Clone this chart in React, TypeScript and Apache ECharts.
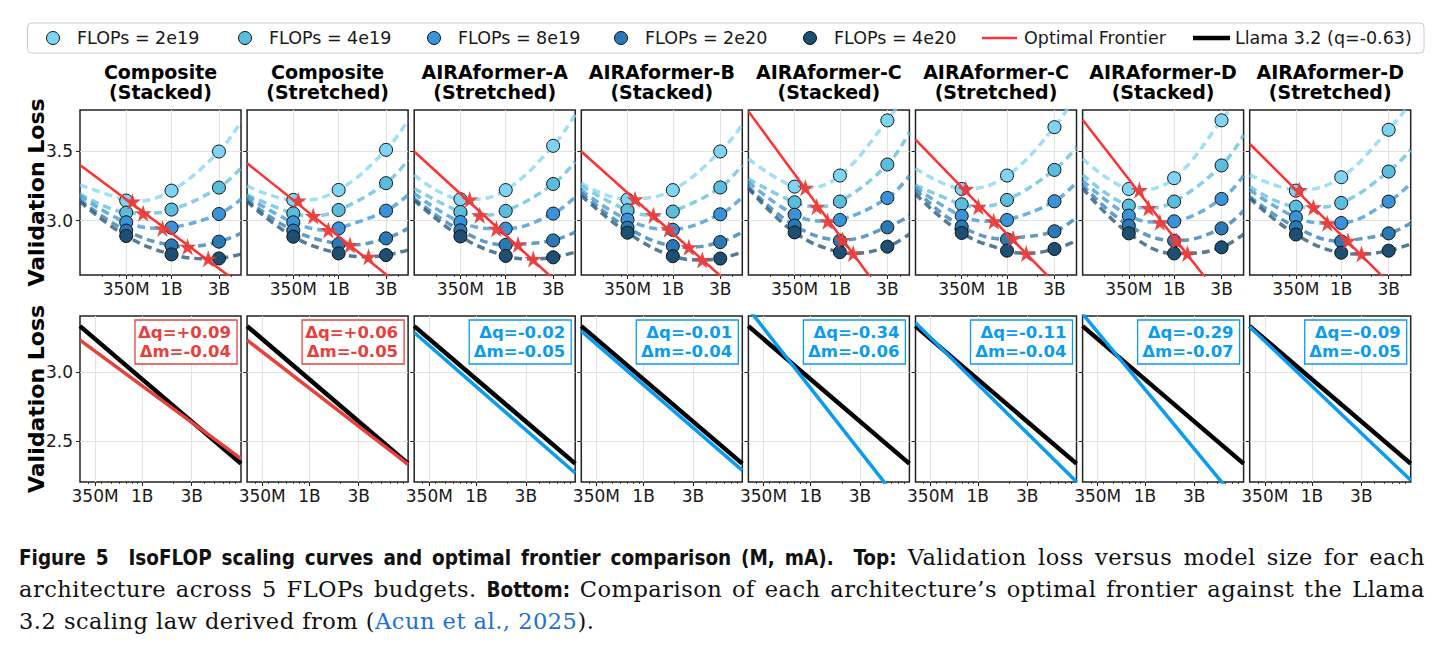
import React, { useEffect, useRef } from 'react';
import * as echarts from 'echarts';

// ---------- labels ----------
const panelTitles = [
  'Composite\n(Stacked)',
  'Composite\n(Stretched)',
  'AIRAformer-A\n(Stretched)',
  'AIRAformer-B\n(Stacked)',
  'AIRAformer-C\n(Stacked)',
  'AIRAformer-C\n(Stretched)',
  'AIRAformer-D\n(Stacked)',
  'AIRAformer-D\n(Stretched)',
];
const budgetNames = ['FLOPs = 2e19', 'FLOPs = 4e19', 'FLOPs = 8e19', 'FLOPs = 2e20', 'FLOPs = 4e20'];
const budgetColors = ['#7fd4f6', '#5bbddd', '#3a93d8', '#2b79b4', '#1c4f72'];
const frontierName = 'Optimal Frontier';
const llamaName = 'Llama 3.2 (q=-0.63)';

// ---------- axes ----------
const modelSizes = [3.5e8, 1e9, 3e9];
const tickSizes = [3.5e8, 1e9, 3e9];
const tickLabels = ['350M', '1B', '3B'];
const minorTickSizes = [2e8, 3e8, 4e8, 5e8, 6e8, 7e8, 8e8, 9e8, 2e9, 3e9, 4e9, 5e9, 6e9, 7e9, 8e9, 9e9];
const topSizeRange = [1.2e8, 5e9];
const topLossRange = [2.607, 3.8];
const topLossTicks = [3.0, 3.5];
const bottomSizeRange = [2.5e8, 9e9];
const bottomLossRange = [2.203, 3.404];
const bottomLossTicks = [2.5, 3.0];

// ---------- IsoFLOP measurements: loss per budget at 350M / 1B / 3B ----------
const compositeStackedLoss = [[3.145, 3.217, 3.5], [3.058, 3.08, 3.239], [2.988, 2.949, 3.048], [2.928, 2.821, 2.848], [2.889, 2.756, 2.727]];
const compositeStretchedLoss = [[3.15, 3.222, 3.512], [3.053, 3.077, 3.271], [2.988, 2.944, 3.072], [2.928, 2.831, 2.872], [2.884, 2.763, 2.751]];
const aStretchedLoss = [[3.155, 3.221, 3.541], [3.063, 3.07, 3.265], [2.99, 2.942, 3.051], [2.93, 2.825, 2.857], [2.886, 2.745, 2.735]];
const bStackedLoss = [[3.153, 3.221, 3.5], [3.075, 3.066, 3.24], [3.007, 2.934, 3.046], [2.949, 2.816, 2.845], [2.913, 2.743, 2.726]];
const cStackedLoss = [[3.246, 3.326, 3.725], [3.133, 3.138, 3.406], [3.043, 3.005, 3.164], [2.964, 2.855, 2.952], [2.915, 2.772, 2.812]];
const cStretchedLoss = [[3.229, 3.326, 3.676], [3.118, 3.15, 3.367], [3.034, 3.005, 3.14], [2.957, 2.865, 2.923], [2.911, 2.783, 2.795]];
const dStackedLoss = [[3.229, 3.307, 3.725], [3.109, 3.138, 3.399], [3.036, 2.995, 3.157], [2.964, 2.855, 2.944], [2.908, 2.763, 2.807]];
const dStretchedLoss = [[3.217, 3.314, 3.657], [3.101, 3.128, 3.355], [3.024, 2.983, 3.138], [2.952, 2.85, 2.908], [2.9, 2.768, 2.783]];
const panelLosses = [compositeStackedLoss, compositeStretchedLoss, aStretchedLoss, bStackedLoss, cStackedLoss, cStretchedLoss, dStackedLoss, dStretchedLoss];

// fitted IsoFLOP curves at the left (120M) and right (5B) ends of the axis
const curveLossAtLeft = [
  [3.258, 3.193, 3.179, 3.15, 3.138],
  [3.251, 3.186, 3.174, 3.15, 3.138],
  [3.33, 3.233, 3.197, 3.16, 3.148],
  [3.27, 3.25, 3.22, 3.2, 3.18],
  [3.447, 3.302, 3.278, 3.246, 3.234],
  [3.379, 3.258, 3.242, 3.222, 3.193],
  [3.447, 3.331, 3.29, 3.258, 3.234],
  [3.331, 3.246, 3.222, 3.174, 3.162],
];
const curveLossAtRight = [
  [3.717, 3.38, 3.155, 2.908, 2.758],
  [3.73, 3.44, 3.186, 2.944, 2.787],
  [3.767, 3.427, 3.172, 2.917, 2.772],
  [3.694, 3.403, 3.172, 2.917, 2.772],
  [3.95, 3.64, 3.326, 3.036, 2.903],
  [3.92, 3.531, 3.278, 3.024, 2.855],
  [3.95, 3.621, 3.326, 3.072, 2.903],
  [3.85, 3.512, 3.27, 2.981, 2.831],
];

// curve minima (optimal model size and loss per budget)
const optimalSize = [
  [4.04e8, 5.18e8, 8.11e8, 1.45e9, 2.34e9],
  [3.92e8, 5.55e8, 7.87e8, 1.3e9, 2.0e9],
  [4.34e8, 5.47e8, 8.05e8, 1.33e9, 1.89e9],
  [4.17e8, 6.38e8, 9.12e8, 1.45e9, 1.98e9],
  [4.49e8, 5.83e8, 7.52e8, 1.06e9, 1.36e9],
  [3.85e8, 5.15e8, 7.35e8, 1.15e9, 1.56e9],
  [4.47e8, 5.53e8, 7.19e8, 1.05e9, 1.36e9],
  [3.78e8, 5.25e8, 7.24e8, 1.17e9, 1.6e9],
];
const optimalLoss = [
  [3.138, 3.053, 2.944, 2.812, 2.725],
  [3.145, 3.034, 2.932, 2.824, 2.739],
  [3.153, 3.039, 2.942, 2.828, 2.723],
  [3.155, 3.039, 2.937, 2.808, 2.716],
  [3.237, 3.101, 2.995, 2.86, 2.763],
  [3.229, 3.101, 2.995, 2.872, 2.763],
  [3.222, 3.092, 2.988, 2.855, 2.763],
  [3.222, 3.097, 2.981, 2.855, 2.758],
];

// optimal frontier at 120M and 5B (top row)
const frontierLossAtLeft = [3.403, 3.415, 3.5, 3.5, 3.79, 3.585, 3.729, 3.556];
const frontierLossAtRight = [2.535, 2.484, 2.434, 2.459, 2.206, 2.387, 2.231, 2.393];

// bottom row: frontier vs Llama 3.2 law at 250M and 9B
const llamaLoss = [3.331, 2.336];
const compareLossAtLeft = [3.229, 3.229, 3.285, 3.295, 3.457, 3.355, 3.419, 3.326];
const compareLossAtRight = [2.372, 2.331, 2.268, 2.287, 1.969, 2.205, 2.011, 2.215];
const deltaQ = [0.09, 0.06, -0.02, -0.01, -0.34, -0.11, -0.29, -0.09];
const deltaM = [-0.04, -0.05, -0.05, -0.04, -0.06, -0.04, -0.07, -0.05];

// ---------- styling ----------
const FONT = '"DejaVu Sans", "Noto Sans", sans-serif';
const INK = '#1a1a1a';
const FRONTIER_RED = '#ff3131';
const STAR_RED = '#e83e3c';
const GAIN_RED = '#e8403c';
const LOSS_BLUE = '#0a9cf0';
const STAR_PATH = 'path://M50,0 L61.8,35.4 L99,35.4 L69,57.3 L80.3,92.7 L50,70.8 L19.7,92.7 L31,57.3 L1,35.4 L38.2,35.4 Z';

const PANEL_LEFT0 = 80;
const PANEL_STEP = 167.1;
const PANEL_W = 161;
const TOP_Y = 110;
const TOP_H = 165;
const BOT_Y = 316;
const BOT_H = 166;

const lg = Math.log10;
const fmtSigned = (v: number) => (v > 0 ? '+' : '') + v.toFixed(2);
const sizeLabel = (v: number) => {
  const k = tickSizes.findIndex((s) => Math.abs(lg(s) - v) < 1e-6);
  return k >= 0 ? tickLabels[k] : '';
};

function buildOption() {
  const grid: any[] = [];
  const xAxis: any[] = [];
  const yAxis: any[] = [];
  const series: any[] = [];
  const graphic: any[] = [];

  const axisText = { fontFamily: FONT, fontSize: 17, color: INK };
  const splitLine = { show: true, lineStyle: { color: '#e3e3e3', width: 1 } };

  // main axes (0..15) then minor-tick axes (16..31)
  const minorAxes: any[] = [];
  for (let g = 0; g < 16; g++) {
    const top = g < 8;
    const col = g % 8;
    const left = PANEL_LEFT0 + col * PANEL_STEP;
    const sRange = top ? topSizeRange : bottomSizeRange;
    const lRange = top ? topLossRange : bottomLossRange;
    const lTicks = top ? topLossTicks : bottomLossTicks;
    grid.push({
      left, top: top ? TOP_Y : BOT_Y, width: PANEL_W, height: top ? TOP_H : BOT_H,
      show: true, borderColor: '#222', borderWidth: 1.5, backgroundColor: 'transparent',
    });
    const majors = tickSizes.filter((s) => s >= sRange[0] && s <= sRange[1]).map(lg);
    xAxis.push({
      type: 'value', gridIndex: g, min: lg(sRange[0]), max: lg(sRange[1]),
      axisLine: { show: false },
      axisTick: { show: true, length: 4, lineStyle: { color: '#222', width: 1 }, customValues: majors },
      axisLabel: { show: true, customValues: majors, formatter: sizeLabel, margin: 5, ...axisText },
      splitLine,
    });
    minorAxes.push({
      type: 'value', gridIndex: g, position: 'bottom', min: lg(sRange[0]), max: lg(sRange[1]),
      axisLine: { show: false },
      axisTick: {
        show: true, length: 2, lineStyle: { color: '#222', width: 0.8 },
        customValues: minorTickSizes.filter((s) => s > sRange[0] && s < sRange[1]).map(lg),
      },
      axisLabel: { show: false },
      splitLine: { show: false },
    });
    yAxis.push({
      type: 'value', gridIndex: g, min: lRange[0], max: lRange[1],
      axisLine: { show: false },
      axisTick: { show: true, length: 4, lineStyle: { color: '#222', width: 1 }, customValues: lTicks },
      axisLabel: {
        show: col === 0, customValues: lTicks, margin: 7,
        formatter: (v: number) => v.toFixed(1), ...axisText,
      },
      splitLine,
    });
  }
  xAxis.push(...minorAxes);

  // ---------- top row: IsoFLOP curves ----------
  for (let p = 0; p < 8; p++) {
    const losses = panelLosses[p];
    for (let b = 0; b < 5; b++) {
      const optX = lg(optimalSize[p][b]);
      const samples: number[][] = [
        [lg(topSizeRange[0]), curveLossAtLeft[p][b]],
        [optX, optimalLoss[p][b]],
        [lg(topSizeRange[1]), curveLossAtRight[p][b]],
      ];
      modelSizes.forEach((s, k) => {
        if (Math.abs(lg(s) - optX) > 0.05) samples.push([lg(s), losses[b][k]]);
      });
      samples.sort((a, c) => a[0] - c[0]);
      series.push({
        type: 'line', name: budgetNames[b] + ' fit', xAxisIndex: p, yAxisIndex: p,
        data: samples, smooth: 0.4, showSymbol: false, symbol: 'none', silent: true,
        lineStyle: { color: budgetColors[b], width: 3.5, type: [8, 5], opacity: 0.75 },
        z: 2,
      });
    }
    for (let b = 0; b < 5; b++) {
      series.push({
        type: 'scatter', name: budgetNames[b], xAxisIndex: p, yAxisIndex: p,
        data: modelSizes.map((s, k) => [lg(s), losses[b][k]]),
        symbol: 'circle', symbolSize: 13,
        itemStyle: { color: budgetColors[b], borderColor: '#111', borderWidth: 1, opacity: 1 },
        z: 3,
      });
    }
    series.push({
      type: 'line', name: frontierName, xAxisIndex: p, yAxisIndex: p,
      data: [[lg(topSizeRange[0]), frontierLossAtLeft[p]], [lg(topSizeRange[1]), frontierLossAtRight[p]]],
      showSymbol: false, symbol: 'none', lineStyle: { color: FRONTIER_RED, width: 2.5 }, z: 4,
    });
    series.push({
      type: 'scatter', name: 'Optimal', xAxisIndex: p, yAxisIndex: p,
      data: optimalSize[p].map((s, b) => [lg(s), optimalLoss[p][b]]),
      symbol: STAR_PATH, symbolSize: 17,
      itemStyle: { color: STAR_RED, opacity: 0.95 },
      z: 5,
    });
  }

  // ---------- bottom row: frontier vs Llama 3.2 ----------
  for (let p = 0; p < 8; p++) {
    const g = 8 + p;
    const color = deltaQ[p] > 0 ? GAIN_RED : LOSS_BLUE;
    series.push({
      type: 'line', name: llamaName, xAxisIndex: g, yAxisIndex: g,
      data: [[lg(bottomSizeRange[0]), llamaLoss[0]], [lg(bottomSizeRange[1]), llamaLoss[1]]],
      showSymbol: false, symbol: 'none', lineStyle: { color: '#000', width: 4.5 }, z: 3,
    });
    series.push({
      type: 'line', name: panelTitles[p].replace('\n', ' '), xAxisIndex: g, yAxisIndex: g,
      data: [[lg(bottomSizeRange[0]), compareLossAtLeft[p]], [lg(bottomSizeRange[1]), compareLossAtRight[p]]],
      showSymbol: false, symbol: 'none', lineStyle: { color, width: 3.5 }, z: 4,
    });

    const right = PANEL_LEFT0 + p * PANEL_STEP + PANEL_W - 4;
    graphic.push({
      type: 'rect', z: 100,
      shape: { x: right - 102, y: BOT_Y + 4, width: 102, height: 44 },
      style: { fill: '#fff', stroke: color, lineWidth: 1.3 },
    });
    graphic.push({
      type: 'text', z: 101, x: right - 6, y: BOT_Y + 26,
      style: {
        text: `Δq=${fmtSigned(deltaQ[p])}\nΔm=${fmtSigned(deltaM[p])}`,
        align: 'right', verticalAlign: 'middle', lineHeight: 18.5,
        fontFamily: FONT, fontWeight: 'bold', fontSize: 16.5, fill: color,
      },
    });
  }

  // ---------- panel titles ----------
  panelTitles.forEach((t, p) => {
    graphic.push({
      type: 'text', x: PANEL_LEFT0 + p * PANEL_STEP + PANEL_W / 2, y: 82,
      style: {
        text: t, align: 'center', verticalAlign: 'middle', lineHeight: 20,
        fontFamily: FONT, fontWeight: 'bold', fontSize: 19, fill: '#000',
      },
    });
  });

  // ---------- y-axis titles ----------
  [TOP_Y + TOP_H / 2, BOT_Y + BOT_H / 2].forEach((cy) => {
    graphic.push({
      type: 'text', x: 36, y: cy, rotation: Math.PI / 2,
      style: {
        text: 'Validation Loss', align: 'center', verticalAlign: 'middle',
        fontFamily: FONT, fontWeight: 'bold', fontSize: 22, fill: '#000',
      },
    });
  });

  // ---------- legend ----------
  const legendY = 38;
  graphic.push({
    type: 'rect', shape: { x: 27.5, y: 23, width: 1396.5, height: 30, r: 4 },
    style: { fill: '#fff', stroke: '#cccccc', lineWidth: 1 },
  });
  const circleX = [53, 245, 434, 621, 810];
  budgetNames.forEach((n, b) => {
    graphic.push({
      type: 'circle', shape: { cx: circleX[b], cy: legendY, r: 6.5 },
      style: { fill: budgetColors[b], stroke: '#111', lineWidth: 1 },
    });
    graphic.push({
      type: 'text', x: circleX[b] + 24, y: legendY,
      style: { text: n, align: 'left', verticalAlign: 'middle', fontFamily: FONT, fontSize: 17.5, fill: INK },
    });
  });
  graphic.push({
    type: 'line', shape: { x1: 982, y1: legendY, x2: 1017, y2: legendY },
    style: { stroke: FRONTIER_RED, lineWidth: 2.5 },
  });
  graphic.push({
    type: 'text', x: 1024, y: legendY,
    style: { text: frontierName, align: 'left', verticalAlign: 'middle', fontFamily: FONT, fontSize: 17.5, fill: INK },
  });
  graphic.push({
    type: 'line', shape: { x1: 1193, y1: legendY, x2: 1230, y2: legendY },
    style: { stroke: '#000', lineWidth: 4.5 },
  });
  graphic.push({
    type: 'text', x: 1235, y: legendY,
    style: { text: llamaName, align: 'left', verticalAlign: 'middle', fontFamily: FONT, fontSize: 17.5, fill: INK },
  });

  return { animation: false, backgroundColor: '#fff', grid, xAxis, yAxis, series, graphic };
}

const captionSans: React.CSSProperties = {
  fontFamily: '"DejaVu Sans Condensed", "DejaVu Sans", sans-serif',
  fontWeight: 'bold',
  fontSize: 20.5,
  letterSpacing: '0px',
};
const captionLine: React.CSSProperties = {
  whiteSpace: 'nowrap',
  textAlign: 'justify',
  textAlignLast: 'justify',
  height: 32,
};

export default function App() {
  const ref = useRef<HTMLDivElement>(null);
  useEffect(() => {
    if (!ref.current) return;
    const chart = echarts.init(ref.current, undefined, { renderer: 'svg' });
    chart.setOption(buildOption());
    return () => chart.dispose();
  }, []);
  return (
    <div style={{ position: 'fixed', left: 0, top: 0, width: 1443, height: 650, background: '#fff', overflow: 'hidden' }}>
      <div ref={ref} style={{ position: 'absolute', left: 0, top: 0, width: 1443, height: 530 }} />
      <div
        style={{
          position: 'absolute', left: 19, top: 541, width: 1406,
          fontFamily: '"DejaVu Serif", "Liberation Serif", serif', fontSize: 22.5, letterSpacing: '0.5px',
          lineHeight: '32px', color: '#111',
        }}
      >
        <div style={captionLine}>
          <span style={captionSans}>Figure 5&nbsp;&nbsp;IsoFLOP scaling curves and optimal frontier comparison (M, mA).&nbsp;&nbsp;Top:</span>{' '}
          Validation loss versus model size for each
        </div>
        <div style={captionLine}>
          architecture across 5 FLOPs budgets. <span style={captionSans}>Bottom:</span> Comparison of each architecture’s
          optimal frontier against the Llama
        </div>
        <div style={{ whiteSpace: 'nowrap', height: 32 }}>
          3.2 scaling law derived from (<span style={{ color: '#1a6fdc' }}>Acun et al., 2025</span>).
        </div>
      </div>
    </div>
  );
}
